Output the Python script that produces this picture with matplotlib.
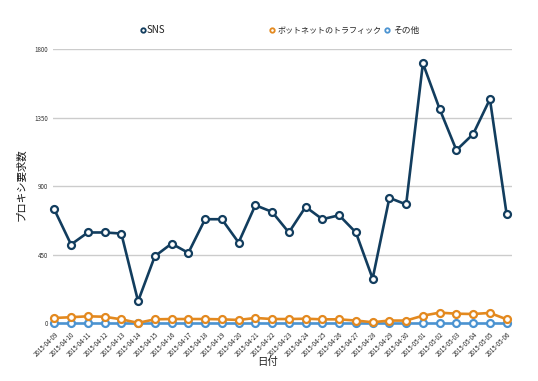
import matplotlib
matplotlib.use("Agg")
import matplotlib.pyplot as plt
from matplotlib.lines import Line2D

plt.rcParams['font.family'] = ['Noto Sans CJK JP', 'DejaVu Sans']

dates = ["2015-04-09", "2015-04-10", "2015-04-11", "2015-04-12", "2015-04-13",
         "2015-04-14", "2015-04-15", "2015-04-16", "2015-04-17", "2015-04-18",
         "2015-04-19", "2015-04-20", "2015-04-21", "2015-04-22", "2015-04-23",
         "2015-04-24", "2015-04-25", "2015-04-26", "2015-04-27", "2015-04-28",
         "2015-04-29", "2015-04-30", "2015-05-01", "2015-05-02", "2015-05-03",
         "2015-05-04", "2015-05-05", "2015-05-06"]
sns_vals = [747, 517, 596, 596, 589, 145, 440, 523, 462, 683,
            683, 530, 775, 731, 596, 764, 683, 709, 596, 293,
            823, 780, 1706, 1406, 1136, 1242, 1471, 714]
botnet_vals = [35, 40, 46, 43, 26, 3, 26, 28, 28, 28,
               26, 22, 35, 28, 28, 30, 26, 26, 18, 7,
               18, 18, 50, 70, 63, 61, 68, 26]
other_vals = [0] * 28
series_names = ["SNS", "ボットネットのトラフィック", "その他"]
colors = ["#123d5e", "#e3891f", "#4b93d1"]
yticks = [0, 450, 900, 1350, 1800]

W, H = 538, 381
fig = plt.figure(figsize=(W / 100, H / 100), dpi=100)
ax = fig.add_axes([53.3 / W, 1 - 323.3 / H, (511.7 - 53.3) / W, (323.3 - 49) / H])

x = list(range(len(dates)))
for vals, c, z in [(other_vals, colors[2], 3), (botnet_vals, colors[1], 4), (sns_vals, colors[0], 5)]:
    ax.plot(x, vals, color=c, lw=1.9, marker='o', ms=5.0, mfc='white', mec=c, mew=1.6,
            clip_on=False, zorder=z)

ax.set_xlim(-0.06, 27.3)
ax.set_ylim(0, 1800)
ax.set_yticks(yticks)
ax.set_yticklabels([str(v) for v in yticks], fontsize=4.5, color='#333333')
ax.set_xticks(x)
ax.set_xticklabels(dates, rotation=45, ha='right', rotation_mode='anchor', fontsize=4.4, color='#222222')
ax.tick_params(axis='both', length=0, pad=4)
ax.tick_params(axis='x', pad=5)
ax.grid(axis='y', color='#cccccc', lw=1)
ax.set_axisbelow(True)
for s in ax.spines.values():
    s.set_visible(False)

fig.text(268 / W, 1 - 362 / H, "日付", fontsize=7.5, ha='center', va='center', color='#222222')
fig.text(21 / W, 1 - 185 / H, "プロキシ要求数", fontsize=7.5, rotation=90, ha='center', va='center', color='#111111')

# legend
leg_items = [(142.7, 146.7, 7.0), (272.3, 278, 5.8), (387, 393, 6.3)]
for (mx, tx, fs), name, c in zip(leg_items, series_names, colors):
    fig.add_artist(Line2D([mx / W], [1 - 30 / H], transform=fig.transFigure, marker='o', ms=3.2,
                          mfc='white', mec=c, mew=1.3, lw=0))
    fig.text(tx / W, 1 - 30 / H, name, fontsize=fs, ha='left', va='center', color='#222222')

fig.savefig("out.png", dpi=100)
